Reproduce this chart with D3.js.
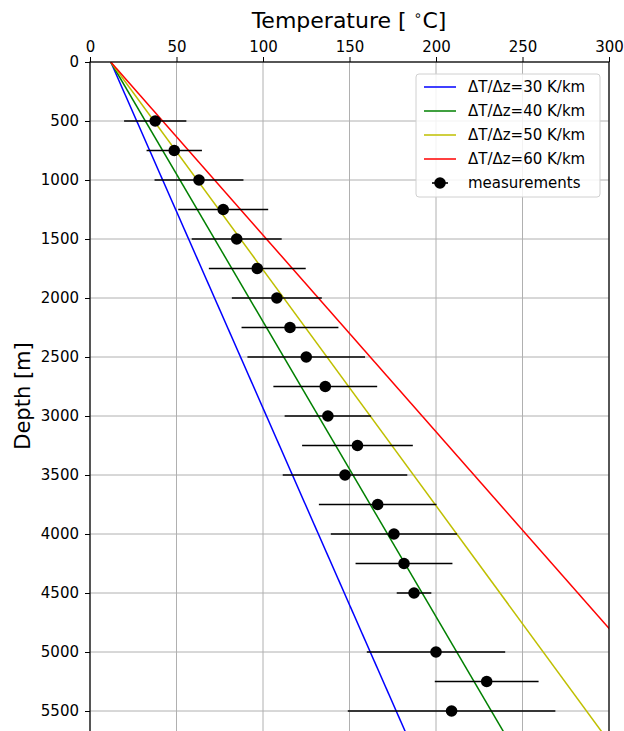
<html>
<head>
<style>
  body { margin: 0; background: #fff; }
  text { font-family: "DejaVu Sans", sans-serif; }
</style>
</head>
<body>
<svg id="mainSvg" width="624" height="731"></svg>
<script src="https://d3js.org/d3.v7.min.js"></script>
<script>
// measured depths (m), temperatures (°C) and error half-widths
const depths = [500, 750, 1000, 1250, 1500, 1750, 2000, 2250, 2500, 2750, 3000, 3250, 3500, 3750, 4000, 4250, 4500, 5000, 5250, 5500]
const temps  = [37.7, 48.7, 63, 77, 84.8, 96.7, 108, 115.6, 125, 136, 137.5, 154.6, 147.4, 166.3, 175.7, 181.5, 187.3, 200, 229.3, 209]
const errs   = [18, 16, 25.7, 26, 26, 28, 26, 28, 34, 30, 25, 32, 36, 34, 36.5, 28, 10, 40, 30, 60]

// geothermal gradients (K/km), surface temperature
const gradients = [30, 40, 50, 60]
const gradColors = ['#0000ff', '#008000', '#bfbf00', '#ff0000']
const surfaceT = 12
const xTicks = [0, 50, 100, 150, 200, 250, 300]
const yTicks = [0, 500, 1000, 1500, 2000, 2500, 3000, 3500, 4000, 4500, 5000, 5500]

const svg = d3.select('#mainSvg')
const margin = { left: 90, top: 62, right: 15 }
const plotW = 609 - margin.left
const plotBottom = 62 + 5700 * 0.118

const x = d3.scaleLinear().domain([0, 300]).range([margin.left, margin.left + plotW])
const y = d3.scaleLinear().domain([0, 5700]).range([margin.top, plotBottom])

svg.append('defs').append('clipPath').attr('id', 'clip')
  .append('rect').attr('x', x(0)).attr('y', y(0)).attr('width', plotW).attr('height', plotBottom - margin.top)

// grid
const grid = svg.append('g')
grid.selectAll('.gx').data(xTicks).join('line')
  .attr('x1', d => x(d)).attr('x2', d => x(d)).attr('y1', y(0)).attr('y2', plotBottom)
  .attr('stroke', '#b0b0b0').attr('stroke-width', 1)
grid.selectAll('.gy').data(yTicks).join('line')
  .attr('x1', x(0)).attr('x2', x(300)).attr('y1', d => y(d)).attr('y2', d => y(d))
  .attr('stroke', '#b0b0b0').attr('stroke-width', 1)

// gradient lines
const plot = svg.append('g').attr('clip-path', 'url(#clip)')
const line = d3.line().x(d => x(d[0])).y(d => y(d[1]))
gradients.forEach((g, i) => {
  const zMax = 5700
  plot.append('path')
    .attr('d', line([[surfaceT, 0], [surfaceT + g * zMax / 1000, zMax]]))
    .attr('fill', 'none').attr('stroke', gradColors[i]).attr('stroke-width', 1.5)
})

// measurements
const meas = depths.map((d, i) => ({ z: d, t: temps[i], e: errs[i] }))
plot.selectAll('.err').data(meas).join('line')
  .attr('x1', d => x(d.t - d.e)).attr('x2', d => x(d.t + d.e))
  .attr('y1', d => y(d.z)).attr('y2', d => y(d.z))
  .attr('stroke', '#000').attr('stroke-width', 1.6)
plot.selectAll('.pt').data(meas).join('circle')
  .attr('cx', d => x(d.t)).attr('cy', d => y(d.z)).attr('r', 5.8).attr('fill', '#000')

// axes
svg.append('g').attr('transform', `translate(0,${y(0)})`)
  .call(d3.axisTop(x).tickValues(xTicks).tickFormat(d3.format('d')).tickSize(5).tickPadding(5))
svg.append('g').attr('transform', `translate(${x(0)},0)`)
  .call(d3.axisLeft(y).tickValues(yTicks).tickFormat(d3.format('d')).tickSize(5).tickPadding(6))
svg.selectAll('.domain').remove()
svg.selectAll('.tick text').attr('font-size', 15).attr('fill', '#000').attr('font-family', 'DejaVu Sans')
svg.selectAll('.tick line').attr('stroke', '#000')

// frame
svg.append('rect').attr('x', x(0)).attr('y', y(0)).attr('width', plotW).attr('height', plotBottom - margin.top)
  .attr('fill', 'none').attr('stroke', '#000').attr('stroke-width', 1.2)

// titles
const title = svg.append('text').attr('x', 349).attr('y', 28).attr('text-anchor', 'middle').attr('font-size', 22)
title.append('tspan').text('Temperature [ ')
title.append('tspan').attr('font-size', 14).attr('dy', -8).text('∘')
title.append('tspan').attr('dy', 8).text('C]')

svg.append('text').attr('transform', 'translate(30,396) rotate(-90)')
  .attr('text-anchor', 'middle').attr('font-size', 21).text('Depth [m]')

// legend
const leg = svg.append('g').attr('transform', 'translate(416,74)')
leg.append('rect').attr('width', 184).attr('height', 123).attr('rx', 3)
  .attr('fill', 'rgba(255,255,255,0.85)').attr('stroke', '#d0d0d0')
const legItems = gradients.map((g, i) => ({ label: `ΔT/Δz=${g} K/km`, color: gradColors[i] }))
legItems.push({ label: 'measurements', color: '#000', marker: true })
legItems.forEach((d, i) => {
  const gy = 13 + i * 24
  if (d.marker) {
    leg.append('line').attr('x1', 16).attr('x2', 32).attr('y1', gy).attr('y2', gy).attr('stroke', '#000').attr('stroke-width', 1.6)
    leg.append('circle').attr('cx', 24).attr('cy', gy).attr('r', 5.8).attr('fill', '#000')
  } else {
    leg.append('line').attr('x1', 8).attr('x2', 40).attr('y1', gy).attr('y2', gy).attr('stroke', d.color).attr('stroke-width', 1.5)
  }
  leg.append('text').attr('x', 52).attr('y', gy + 5).attr('font-size', 15).text(d.label)
})
</script>
</body>
</html>
